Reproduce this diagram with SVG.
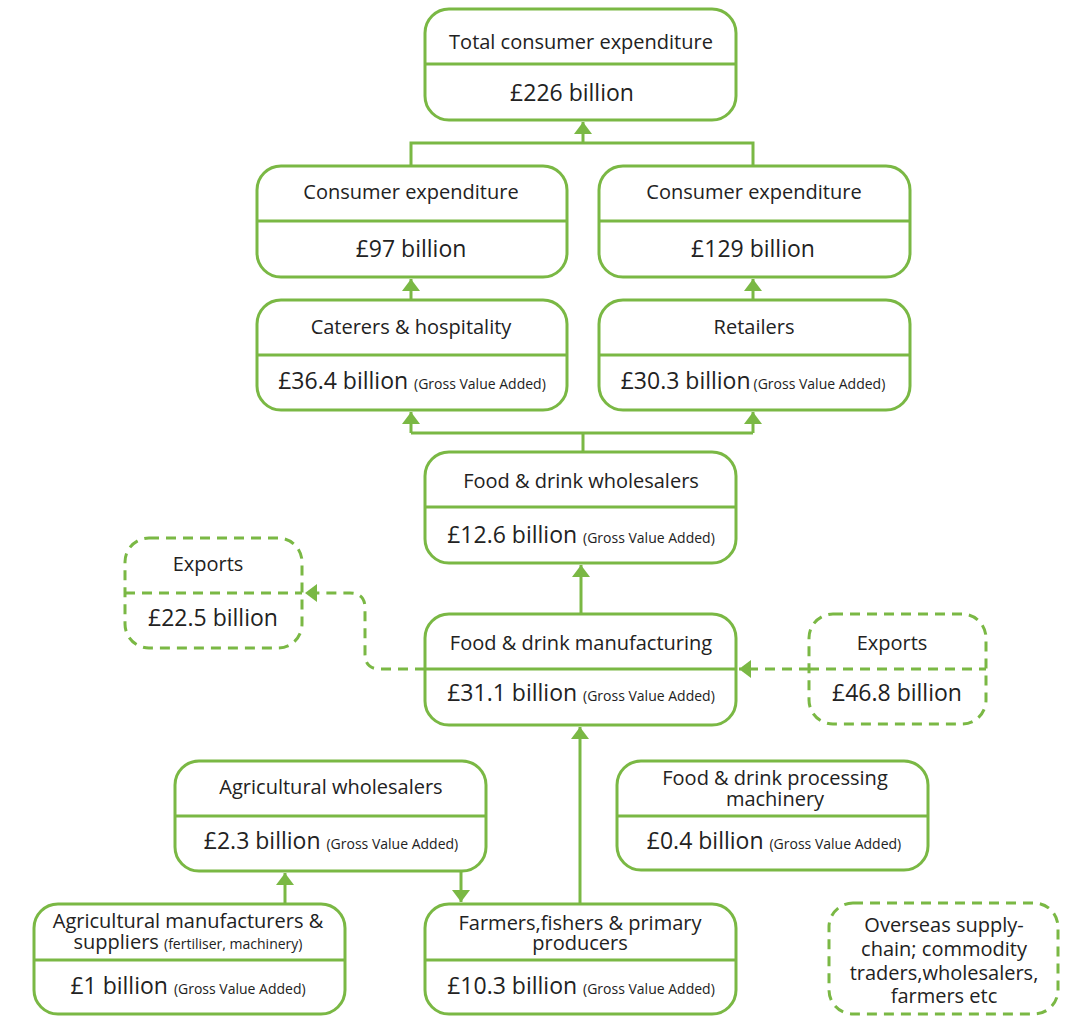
<svg xmlns="http://www.w3.org/2000/svg" width="1065" height="1017" viewBox="0 0 1065 1017">
  <style>
    .box { fill: #ffffff; stroke: #7ab844; stroke-width: 3; }
    .dbox { fill: #ffffff; stroke: #7ab844; stroke-width: 3; stroke-dasharray: 10 7; }
    .div { stroke: #7ab844; stroke-width: 3; fill: none; }
    .ddiv { stroke: #7ab844; stroke-width: 3; fill: none; stroke-dasharray: 10 7; }
    .conn { stroke: #7ab844; stroke-width: 3; fill: none; }
    .dconn { stroke: #7ab844; stroke-width: 3; fill: none; stroke-dasharray: 10 7; }
    text { font-family: "Open Sans", "Noto Sans", "Liberation Sans", sans-serif; fill: #222222; text-anchor: middle; }
    .t { font-size: 20px; }
    .v { font-size: 23px; }
    .s { font-size: 14px; }
  </style>
  <defs>
    <marker id="arrow" markerUnits="userSpaceOnUse" viewBox="0 0 12 18" refX="12" refY="9" markerWidth="12" markerHeight="18" orient="auto">
      <path d="M0 0 L12 9 L0 18 z" fill="#7ab844"/>
    </marker>
  </defs>

  <!-- connectors -->
  <g id="connectors">
    <path class="conn" d="M411 165 V143 H753 V165"/>
    <path class="conn" d="M583 143 V122" marker-end="url(#arrow)"/>
    <path class="conn" d="M411 300 V279" marker-end="url(#arrow)"/>
    <path class="conn" d="M753 300 V279" marker-end="url(#arrow)"/>
    <path class="conn" d="M583 452 V433 M411 433 H753"/>
    <path class="conn" d="M411 433 V412" marker-end="url(#arrow)"/>
    <path class="conn" d="M753 433 V412" marker-end="url(#arrow)"/>
    <path class="conn" d="M581 613 V565" marker-end="url(#arrow)"/>
    <path class="dconn" d="M425 669 H380 Q365 669 365 654 V608 Q365 593 350 593 H305" marker-end="url(#arrow)"/>
    <path class="dconn" d="M809 669 H739" marker-end="url(#arrow)"/>
    <path class="conn" d="M580 904 V727" marker-end="url(#arrow)"/>
    <path class="conn" d="M285 904 V873" marker-end="url(#arrow)"/>
    <path class="conn" d="M461 871 V902" marker-end="url(#arrow)"/>
  </g>

  <!-- Total consumer expenditure -->
  <g id="total">
    <rect class="box" x="425" y="9" width="311" height="111" rx="24"/>
    <line class="div" x1="425" y1="64" x2="736" y2="64"/>
    <text class="t" x="581" y="49">Total consumer expenditure</text>
    <text class="v" x="572" y="101">£226 billion</text>
  </g>

  <!-- Consumer expenditure (catering) -->
  <g id="consumer-left">
    <rect class="box" x="257" y="166" width="310" height="111" rx="24"/>
    <line class="div" x1="257" y1="221" x2="567" y2="221"/>
    <text class="t" x="411" y="199">Consumer expenditure</text>
    <text class="v" x="411" y="257">£97 billion</text>
  </g>

  <!-- Consumer expenditure (retail) -->
  <g id="consumer-right">
    <rect class="box" x="599" y="166" width="311" height="111" rx="24"/>
    <line class="div" x1="599" y1="221" x2="910" y2="221"/>
    <text class="t" x="754" y="199">Consumer expenditure</text>
    <text class="v" x="753" y="257">£129 billion</text>
  </g>

  <!-- Caterers & hospitality -->
  <g id="caterers">
    <rect class="box" x="257" y="300" width="310" height="110" rx="24"/>
    <line class="div" x1="257" y1="355" x2="567" y2="355"/>
    <text class="t" x="411" y="334">Caterers &amp; hospitality</text>
    <text x="412" y="389"><tspan class="v">£36.4 billion </tspan><tspan class="s">(Gross Value Added)</tspan></text>
  </g>

  <!-- Retailers -->
  <g id="retailers">
    <rect class="box" x="599" y="300" width="311" height="110" rx="24"/>
    <line class="div" x1="599" y1="355" x2="910" y2="355"/>
    <text class="t" x="754" y="334">Retailers</text>
    <text x="753" y="389"><tspan class="v">£30.3 billion</tspan><tspan class="s" dx="3">(Gross Value Added)</tspan></text>
  </g>

  <!-- Food & drink wholesalers -->
  <g id="fd-wholesalers">
    <rect class="box" x="425" y="452" width="311" height="111" rx="24"/>
    <line class="div" x1="425" y1="507" x2="736" y2="507"/>
    <text class="t" x="581" y="488">Food &amp; drink wholesalers</text>
    <text x="581" y="543"><tspan class="v">£12.6 billion </tspan><tspan class="s">(Gross Value Added)</tspan></text>
  </g>

  <!-- Exports (outbound) -->
  <g id="exports-left">
    <rect class="dbox" x="125" y="538" width="177" height="110" rx="24"/>
    <line class="ddiv" x1="125" y1="593" x2="302" y2="593"/>
    <text class="t" x="208" y="571">Exports</text>
    <text class="v" x="213" y="626">£22.5 billion</text>
  </g>

  <!-- Food & drink manufacturing -->
  <g id="fd-manufacturing">
    <rect class="box" x="425" y="614" width="311" height="111" rx="24"/>
    <line class="div" x1="425" y1="669" x2="736" y2="669"/>
    <text class="t" x="581" y="650">Food &amp; drink manufacturing</text>
    <text x="581" y="701"><tspan class="v">£31.1 billion </tspan><tspan class="s">(Gross Value Added)</tspan></text>
  </g>

  <!-- Exports (inbound) -->
  <g id="exports-right">
    <rect class="dbox" x="809" y="614" width="177" height="110" rx="24"/>
    <line class="ddiv" x1="809" y1="669" x2="986" y2="669"/>
    <text class="t" x="892" y="650">Exports</text>
    <text class="v" x="897" y="701">£46.8 billion</text>
  </g>

  <!-- Agricultural wholesalers -->
  <g id="agri-wholesalers">
    <rect class="box" x="175" y="761" width="311" height="110" rx="24"/>
    <line class="div" x1="175" y1="816" x2="486" y2="816"/>
    <text class="t" x="331" y="794">Agricultural wholesalers</text>
    <text x="331" y="849"><tspan class="v">£2.3 billion </tspan><tspan class="s">(Gross Value Added)</tspan></text>
  </g>

  <!-- Food & drink processing machinery -->
  <g id="processing-machinery">
    <rect class="box" x="617" y="761" width="311" height="109" rx="24"/>
    <line class="div" x1="617" y1="816" x2="928" y2="816"/>
    <text class="t" x="775" y="785">Food &amp; drink processing</text>
    <text class="t" x="775" y="806">machinery</text>
    <text x="774" y="849"><tspan class="v">£0.4 billion </tspan><tspan class="s">(Gross Value Added)</tspan></text>
  </g>

  <!-- Agricultural manufacturers & suppliers -->
  <g id="agri-manufacturers">
    <rect class="box" x="34" y="904" width="311" height="110" rx="24"/>
    <line class="div" x1="34" y1="960" x2="345" y2="960"/>
    <text class="t" x="188" y="928">Agricultural manufacturers &amp;</text>
    <text x="188" y="949"><tspan class="t">suppliers </tspan><tspan class="s">(fertiliser, machinery)</tspan></text>
    <text x="188" y="994"><tspan class="v">£1 billion </tspan><tspan class="s">(Gross Value Added)</tspan></text>
  </g>

  <!-- Farmers, fishers & primary producers -->
  <g id="farmers">
    <rect class="box" x="425" y="904" width="311" height="110" rx="24"/>
    <line class="div" x1="425" y1="960" x2="736" y2="960"/>
    <text class="t" x="580" y="930">Farmers,fishers &amp; primary</text>
    <text class="t" x="580" y="950">producers</text>
    <text x="581" y="994"><tspan class="v">£10.3 billion </tspan><tspan class="s">(Gross Value Added)</tspan></text>
  </g>

  <!-- Overseas supply chain -->
  <g id="overseas">
    <rect class="dbox" x="829" y="903" width="229" height="111" rx="24"/>
    <text class="t" x="944" y="932">Overseas supply-</text>
    <text class="t" x="944" y="956">chain; commodity</text>
    <text class="t" x="944" y="980">traders,wholesalers,</text>
    <text class="t" x="944" y="1003">farmers etc</text>
  </g>
</svg>
